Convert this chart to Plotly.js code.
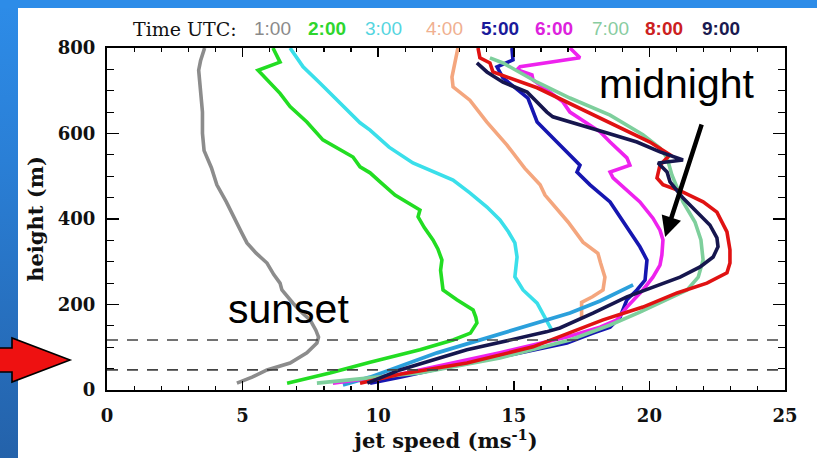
<!DOCTYPE html>
<html>
<head>
<meta charset="utf-8">
<script src="https://cdn.plot.ly/plotly-3.0.1.min.js"></script>
<style>
  html, body { margin: 0; padding: 0; }
  body { width: 817px; height: 458px; position: relative; overflow: hidden;
         background: linear-gradient(180deg, #2D8CE8 0%, #2A7FD6 35%, #2462AA 100%); }
  #topband { position: absolute; left: 0; top: 0; width: 817px; height: 8px; background: #2D8CE8; }
  #sheet { position: absolute; left: 18px; top: 8px; width: 799px; height: 450px; background: #ffffff; }
  #chart { position: absolute; left: 0; top: 0; width: 817px; height: 458px; }
</style>
</head>
<body>
<div id="topband"></div>
<div id="sheet"></div>
<div id="chart"></div>
<script>
// ---------- data ----------
const timeLabels = ['1:00', '2:00', '3:00', '4:00', '5:00', '6:00', '7:00', '8:00', '9:00'];
const seriesColors = ['#8C8C8C', '#22DD22', '#3ADFEA', '#F4A67E', '#1616B0', '#EE22EE', '#7ECF9C', '#E01212', '#16164E'];
const labelColors  = ['#8A8A8A', '#2ED62E', '#55D5E0', '#F0B090', '#1A1A9A', '#DD22DD', '#88CCA0', '#CC2020', '#1A1A50'];
const labelBold    = [false, true, false, false, true, true, false, true, true];

// 1:00
const h1 = [800, 770, 748, 700, 650, 600, 560, 520, 480, 440, 400, 370, 344, 320, 297, 270, 250, 234, 203, 180, 164, 140, 124, 110, 87, 63, 47, 30, 16];
const v1 = [3.6, 3.45, 3.38, 3.45, 3.52, 3.52, 3.58, 3.85, 4.05, 4.4, 4.7, 4.95, 5.16, 5.5, 5.9, 6.15, 6.38, 6.45, 6.86, 7.2, 7.49, 7.7, 7.8, 7.74, 7.37, 6.75, 5.9, 5.35, 4.79];
// 2:00
const h2 = [800, 767, 748, 694, 663, 627, 585, 545, 522, 508, 487, 456, 421, 405, 380, 351, 330, 304, 280, 257, 234, 211, 187, 170, 157, 133, 117, 94, 75, 65, 40, 16];
const v2 = [6.12, 6.38, 5.57, 6.38, 6.75, 7.37, 7.96, 9.07, 9.33, 9.7, 10.07, 10.62, 11.54, 11.47, 11.7, 12.02, 12.2, 12.35, 12.3, 12.35, 12.39, 12.9, 13.5, 13.6, 13.64, 13.4, 12.76, 11.54, 10.32, 9.7, 8.22, 6.64];
// 3:00
const h3 = [800, 756, 718, 671, 625, 608, 568, 531, 508, 491, 461, 428, 398, 370, 344, 311, 265, 234, 203, 171, 157, 140];
const v3 = [6.75, 7.23, 7.85, 8.59, 9.33, 9.7, 10.4, 11.28, 12.17, 12.76, 13.38, 14.01, 14.49, 14.8, 15.04, 15.12, 15.04, 15.34, 15.86, 16.15, 16.26, 16.4];
// 4:00
const h4 = [800, 760, 732, 709, 678, 627, 573, 519, 480, 456, 430, 393, 346, 320, 297, 264, 234, 218, 205, 171];
const v4 = [12.94, 12.8, 12.72, 12.76, 13.38, 14.0, 14.75, 15.4, 15.97, 16.15, 16.5, 17.0, 17.55, 18.1, 18.2, 18.36, 18.29, 17.9, 17.5, 17.5];
// 5:00
const h5 = [800, 772, 756, 730, 683, 627, 580, 526, 510, 480, 440, 416, 370, 335, 304, 257, 234, 211, 171, 147, 133, 110, 77, 47, 30, 16];
const v5 = [14.93, 14.97, 14.38, 14.6, 15.52, 15.86, 16.59, 17.44, 17.33, 17.81, 18.55, 18.8, 19.28, 19.65, 19.91, 19.84, 19.54, 19.17, 18.92, 18.55, 17.92, 16.96, 14.49, 12.02, 10.8, 9.7];
// 6:00
const h6 = [800, 777, 756, 749, 737, 725, 674, 650, 604, 580, 543, 526, 510, 496, 440, 402, 374, 351, 316, 292, 264, 234, 194, 164, 147, 124, 87, 54, 37, 16];
const v6 = [17.07, 17.44, 15.23, 15.12, 15.67, 15.71, 16.81, 17.07, 18.18, 18.55, 19.17, 19.28, 18.55, 18.66, 19.65, 20.13, 20.39, 20.5, 20.46, 20.39, 20.13, 19.76, 19.17, 18.8, 18.18, 16.96, 14.49, 12.02, 10.8, 8.33];
// 7:00
const h7 = [777, 765, 720, 683, 643, 597, 566, 543, 503, 440, 393, 351, 304, 264, 234, 211, 182, 152, 117, 75, 40, 16];
const v7 = [14.12, 14.6, 15.86, 17.07, 18.55, 19.76, 20.39, 20.65, 20.83, 21.24, 21.68, 21.9, 21.98, 21.8, 21.39, 20.65, 19.65, 18.55, 17.07, 14.49, 11.54, 7.74];
// 8:00
const h8 = [800, 777, 765, 744, 707, 650, 613, 580, 550, 526, 496, 480, 463, 440, 416, 370, 328, 297, 274, 250, 227, 194, 164, 140, 101, 63, 37, 16];
const v8 = [13.68, 13.75, 14.12, 14.23, 15.86, 17.7, 18.92, 20.02, 20.76, 20.39, 20.28, 20.5, 21.24, 21.98, 22.49, 22.86, 22.97, 22.97, 22.86, 22.12, 21.02, 19.76, 18.29, 17.33, 15.71, 13.27, 10.8, 9.33];
// 9:00
const h9 = [765, 744, 720, 697, 650, 639, 604, 580, 557, 538, 531, 510, 487, 449, 416, 386, 356, 335, 311, 288, 264, 241, 218, 180, 145, 136, 94, 47, 16];
const v9 = [13.64, 14.01, 14.6, 15.49, 16.22, 16.44, 18.29, 19.54, 20.39, 21.24, 20.32, 20.65, 20.76, 21.24, 21.76, 22.23, 22.49, 22.53, 22.35, 21.87, 21.13, 20.13, 19.17, 17.92, 16.7, 16.2, 13.27, 10.8, 9.6];
// light-blue near-surface segment
const hLow = [12, 30, 87, 133, 180, 208, 246];
const vLow = [8.7, 9.7, 12.17, 14.6, 17.07, 18.18, 19.4];

// reference layer heights (dashed lines)
const layerHeights = [47, 117];

const xTitle = 'jet speed (ms<sup>-1</sup>)';
const yTitle = 'height (m)';
const headerText = 'Time UTC:';
const noteSunset = 'sunset';
const noteMidnight = 'midnight';

// ---------- layout helpers (pixel -> paper) ----------
const PL = 107, PR = 785, PT = 48, PB = 390;
const px = x => (x - PL) / (PR - PL);
const py = y => (PB - y) / (PB - PT);

const hs = [h1, h2, h3, h4, h5, h6, h7, h8, h9];
const vs = [v1, v2, v3, v4, v5, v6, v7, v8, v9];

const traces = [];
hs.forEach((h, i) => {
  traces.push({
    x: vs[i], y: h, type: 'scatter', mode: 'lines', name: timeLabels[i],
    line: { color: seriesColors[i], width: 3.6 }, showlegend: false, hoverinfo: 'skip'
  });
});
traces.splice(4, 0, {
  x: vLow, y: hLow, type: 'scatter', mode: 'lines', name: 'low',
  line: { color: '#2BA0DC', width: 3.8 }, showlegend: false, hoverinfo: 'skip'
});

const shapes = layerHeights.map(h => ({
  type: 'line', xref: 'x', yref: 'y', x0: 0, x1: 25, y0: h, y1: h,
  line: { color: '#444444', width: 1.6, dash: '11px,9px' }, layer: 'above'
}));

// red block arrow at left
const arrowPts = [[-3, 348], [12, 348], [12, 338], [70, 360], [12, 382], [12, 372], [-3, 372]];
shapes.push({
  type: 'path', xref: 'paper', yref: 'paper',
  path: 'M ' + arrowPts.map(p => px(p[0]) + ' ' + py(p[1])).join(' L ') + ' Z',
  fillcolor: '#EE1111', line: { color: '#000000', width: 1.6 }, layer: 'above'
});

const annotations = [];
annotations.push({
  xref: 'paper', yref: 'paper', x: px(185), y: py(29), text: headerText, showarrow: false,
  font: { family: 'DejaVu Serif', size: 19, color: '#111111' }, xanchor: 'center', yanchor: 'middle'
});
const labelCenters = [272, 327, 383, 444, 500, 554, 610, 664, 721];
timeLabels.forEach((t, i) => {
  annotations.push({
    xref: 'paper', yref: 'paper', x: px(labelCenters[i]), y: py(29), text: t, showarrow: false,
    font: { family: 'Liberation Sans', size: 19, color: labelColors[i], weight: labelBold[i] ? 'bold' : 'normal' },
    xanchor: 'center', yanchor: 'middle'
  });
});
annotations.push({
  xref: 'paper', yref: 'paper', x: px(288), y: py(309), text: noteSunset, showarrow: false,
  font: { family: 'Liberation Sans', size: 41, color: '#000000' }, xanchor: 'center', yanchor: 'middle'
});
annotations.push({
  xref: 'paper', yref: 'paper', x: px(677), y: py(84), text: noteMidnight, showarrow: false,
  font: { family: 'Liberation Sans', size: 41, color: '#000000' }, xanchor: 'center', yanchor: 'middle'
});
// black pointer arrow toward the 6:00 / midnight profile
annotations.push({
  xref: 'x', yref: 'y', x: 20.58, y: 358, ax: 37, ay: -114, axref: 'pixel', ayref: 'pixel',
  text: '', showarrow: true, arrowhead: 2, arrowsize: 0.9, arrowwidth: 4.5, arrowcolor: '#000000'
});

const tickFont = { family: 'DejaVu Serif', size: 18, color: '#111111', weight: 'bold' };
const titleFont = { family: 'DejaVu Serif', size: 21, color: '#111111', weight: 'bold' };

const layout = {
  width: 817, height: 458,
  margin: { l: PL, r: 817 - PR, t: PT, b: 458 - PB, pad: 0 },
  paper_bgcolor: 'rgba(0,0,0,0)', plot_bgcolor: 'rgba(0,0,0,0)',
  showlegend: false,
  xaxis: {
    range: [0, 25], tick0: 0, dtick: 5, ticks: 'inside', ticklen: 9, tickwidth: 1.5, tickcolor: '#000',
    showline: true, linecolor: '#000', linewidth: 2, mirror: 'allticks', showgrid: false, zeroline: false,
    minor: { dtick: 1, ticks: 'inside', ticklen: 4, tickwidth: 1.2, tickcolor: '#000', showgrid: false },
    tickfont: tickFont, ticklabelstandoff: 8,
    title: { text: xTitle, font: titleFont, standoff: 4 }
  },
  yaxis: {
    range: [0, 800], tick0: 0, dtick: 200, ticks: 'inside', ticklen: 12, tickwidth: 1.5, tickcolor: '#000',
    showline: true, linecolor: '#000', linewidth: 2, mirror: 'allticks', showgrid: false, zeroline: false,
    minor: { dtick: 50, ticks: 'inside', ticklen: 7, tickwidth: 1.2, tickcolor: '#000', showgrid: false },
    tickfont: tickFont, ticklabelstandoff: 6,
    title: { text: yTitle, font: titleFont, standoff: 8 }
  },
  shapes: shapes,
  annotations: annotations
};

Plotly.newPlot('chart', traces, layout, { staticPlot: true, displayModeBar: false });
</script>
</body>
</html>
